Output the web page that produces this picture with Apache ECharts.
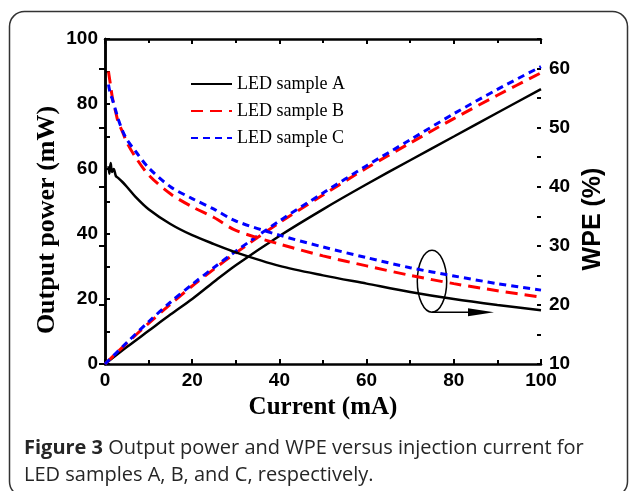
<!DOCTYPE html>
<html>
<head>
<meta charset="utf-8">
<script src="https://cdn.jsdelivr.net/npm/echarts@6/dist/echarts.min.js"></script>
<style>
  html, body { margin: 0; padding: 0; background: #fff; }
  #chart { width: 629px; height: 491px; }
</style>
</head>
<body>
<div id="chart"></div>
<script>
// Output power (left axis) vs current
const powerCurrent = [0, 5, 10, 15, 20, 25, 30, 40, 50, 60, 70, 80, 90, 100]
const powerA = [0, 5.2, 10.2, 15.2, 20, 25.3, 30.4, 39.4, 47.6, 55.3, 62.7, 70, 77.3, 84.6]
const powerB = [0, 6.4, 12.5, 18.4, 24, 29.2, 34.2, 43.5, 52, 60.3, 68, 75.5, 82.7, 89.6]
const powerC = [0, 6.6, 13, 19, 24.5, 29.7, 34.7, 44, 52.6, 61, 69, 77, 84.5, 91.5]

// WPE (right axis) vs current
const wpeCurrent = [0.8, 1, 1.3, 1.6, 2, 2.5, 3, 4, 5, 7, 10, 15, 20, 25, 30, 40, 50, 60, 70, 80, 90, 100]
const wpeA = [43.5, 42.2, 44, 42.5, 43, 41.8, 41.5, 40.8, 40, 38.3, 36.2, 33.7, 31.8, 30.3, 28.9, 26.6, 25, 23.6, 22.2, 21, 20, 19.1]
const wpeB = [59.5, 58.5, 57, 55.5, 54, 52.5, 51, 49.3, 47.5, 45, 42, 38.8, 36.6, 34.8, 32.6, 30.3, 28.3, 26.6, 25, 23.6, 22.4, 21.3]
const wpeC = [57.3, 56.5, 55.5, 55, 54, 52.8, 51.5, 49.5, 48, 46, 43.2, 40, 38, 36.2, 34.2, 31.8, 29.8, 28, 26.3, 24.9, 23.6, 22.5]

const sampleNames = ['LED sample A', 'LED sample B', 'LED sample C']

const zip = (xs, ys) => xs.map((x, i) => [x, ys[i]])

const lineStyles = [
  { color: '#000000', width: 2.5, type: 'solid' },
  { color: '#ff0000', width: 3, type: [12, 7] },
  { color: '#0000ff', width: 3, type: [7, 5] },
]

const makeSeries = (name, data, style, yAxisIndex) => ({
  name,
  type: 'line',
  yAxisIndex,
  data,
  smooth: 0.3,
  symbol: 'none',
  color: style.color,
  lineStyle: { color: style.color, width: style.width, type: style.type },
  z: 3,
})

const tickFont = { color: '#000', fontFamily: 'Liberation Sans', fontWeight: 'bold', fontSize: 19 }
const frameLine = { show: true, lineStyle: { color: '#000', width: 2.5 } }

const chart = echarts.init(document.getElementById('chart'))

chart.setOption({
  animation: false,
  backgroundColor: '#fff',
  grid: { left: 105, top: 39, width: 436, height: 325 },
  legend: {
    left: 185,
    top: 70,
    orient: 'vertical',
    itemWidth: 41,
    itemHeight: 14,
    itemGap: 9,
    // hide the circle marker the line legend icon adds
    itemStyle: { opacity: 0 },
    data: sampleNames,
    textStyle: { color: '#000', fontFamily: 'Liberation Serif', fontSize: 18 },
  },
  xAxis: [
    {
      type: 'value', position: 'bottom', min: 0, max: 100, interval: 20,
      axisLine: frameLine,
      axisTick: { inside: true, length: 5, lineStyle: { width: 2 } },
      minorTick: { show: true, splitNumber: 2, length: 4, lineStyle: { color: '#000', width: 2 } },
      splitLine: { show: false },
      axisLabel: { ...tickFont, margin: 7 },
      name: 'Current (mA)',
      nameLocation: 'middle',
      nameGap: 30,
      nameTextStyle: { color: '#000', fontFamily: 'Liberation Serif', fontWeight: 'bold', fontSize: 25 },
    },
    {
      type: 'value', position: 'top', min: 0, max: 100, interval: 20,
      axisLine: frameLine,
      axisTick: { inside: true, length: 5, lineStyle: { width: 2 } },
      minorTick: { show: true, splitNumber: 2, length: 4, lineStyle: { color: '#000', width: 2 } },
      splitLine: { show: false },
      axisLabel: { show: false },
    },
  ],
  yAxis: [
    {
      type: 'value', position: 'left', min: 0, max: 100, interval: 20,
      axisLine: frameLine,
      axisTick: { inside: true, length: 5, lineStyle: { width: 2 } },
      minorTick: { show: true, splitNumber: 2, length: 5, lineStyle: { color: '#000', width: 2 } },
      splitLine: { show: false },
      axisLabel: { ...tickFont, margin: 7 },
    },
    {
      type: 'value', position: 'right', min: 10, max: 65, interval: 10,
      axisLine: frameLine,
      axisTick: { inside: true, length: 6, lineStyle: { width: 2 } },
      splitLine: { show: false },
      axisLabel: { ...tickFont, margin: 8, showMaxLabel: false, formatter: (v) => (v % 10 === 0 ? v : '') },
    },
    {
      // minor ticks of the WPE axis
      type: 'value', position: 'right', min: 10, max: 65, interval: 5,
      axisLine: { show: false },
      axisTick: { inside: true, length: 4, lineStyle: { color: '#000', width: 2 } },
      splitLine: { show: false },
      axisLabel: { show: false },
    },
  ],
  series: [
    makeSeries(sampleNames[0], zip(powerCurrent, powerA), lineStyles[0], 0),
    makeSeries(sampleNames[1], zip(powerCurrent, powerB), lineStyles[1], 0),
    makeSeries(sampleNames[2], zip(powerCurrent, powerC), lineStyles[2], 0),
    makeSeries(sampleNames[0], zip(wpeCurrent, wpeA), lineStyles[0], 1),
    makeSeries(sampleNames[1], zip(wpeCurrent, wpeB), lineStyles[1], 1),
    makeSeries(sampleNames[2], zip(wpeCurrent, wpeC), lineStyles[2], 1),
  ],
})

// ellipse + arrow pointing the WPE curves to the right axis
const [ex, ey] = chart.convertToPixel({ xAxisIndex: 0, yAxisIndex: 1 }, [75, 24])
const rx = 14.7, ry = 31
const arrowY = ey + ry

const captionFont = '20px "Open Sans"'

chart.setOption({
  graphic: [
    {
      type: 'rect', silent: true,
      shape: { x: 9.5, y: 11.5, width: 618, height: 485, r: 15 },
      style: { fill: 'none', stroke: '#333', lineWidth: 1.5 },
    },
    {
      type: 'text', x: 47, y: 220, rotation: Math.PI / 2,
      style: { text: 'Output power (mW)', fill: '#000', font: 'bold 26px "Liberation Serif"', align: 'center', verticalAlign: 'middle' },
    },
    {
      type: 'text', x: 593, y: 219, rotation: Math.PI / 2,
      style: { text: 'WPE (%)', fill: '#000', font: 'bold 25px "Liberation Sans"', align: 'center', verticalAlign: 'middle' },
    },
    {
      type: 'ellipse',
      shape: { cx: ex, cy: ey, rx, ry },
      style: { fill: 'none', stroke: '#000', lineWidth: 1.5 },
    },
    {
      type: 'line',
      shape: { x1: ex, y1: arrowY, x2: ex + 40, y2: arrowY },
      style: { stroke: '#000', lineWidth: 1.5 },
    },
    {
      type: 'polygon',
      shape: { points: [[ex + 36, arrowY - 4], [ex + 62, arrowY], [ex + 36, arrowY + 4]] },
      style: { fill: '#000' },
    },
    {
      type: 'text', x: 24, y: 448,
      style: {
        text: '{b|Figure 3} Output power and WPE versus injection current for',
        fill: '#262626', font: captionFont, verticalAlign: 'middle',
        rich: { b: { fontWeight: 'bold', fontFamily: 'Open Sans', fontSize: 20, fill: '#262626' } },
      },
    },
    {
      type: 'text', x: 24, y: 475,
      style: { text: 'LED samples A, B, and C, respectively.', fill: '#262626', font: captionFont, verticalAlign: 'middle' },
    },
  ],
})
</script>
</body>
</html>
